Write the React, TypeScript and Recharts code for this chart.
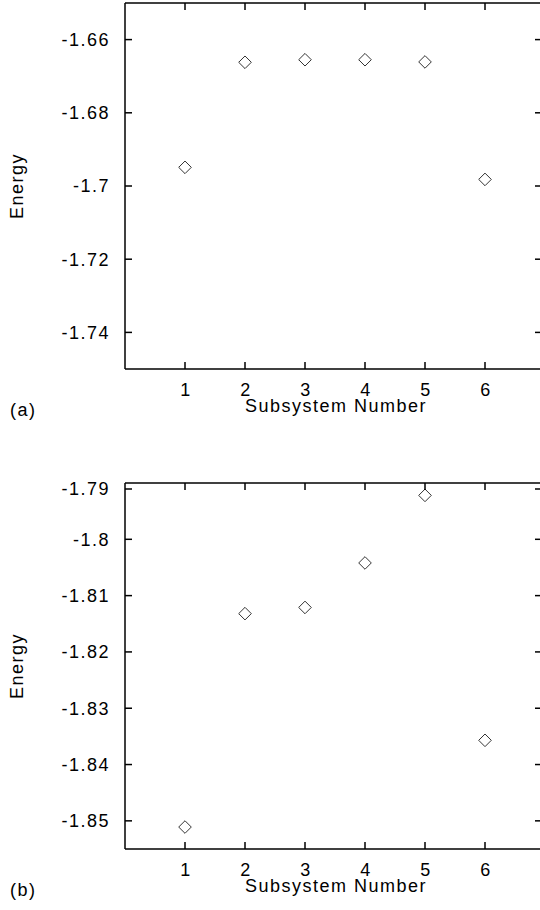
import { Label, Scatter, ScatterChart, XAxis, YAxis } from "recharts";

const subsystems = [1, 2, 3, 4, 5, 6];
const energyA = [-1.6949, -1.6662, -1.6655, -1.6655, -1.6661, -1.6982];
const energyB = [-1.8511, -1.8132, -1.8121, -1.8042, -1.7922, -1.8357];

const xTicks = [1, 2, 3, 4, 5, 6];
const xDomain = [0, 7];
const yTicksA = [-1.74, -1.72, -1.7, -1.68, -1.66];
const yDomainA = [-1.75, -1.65];
const yTicksB = [-1.85, -1.84, -1.83, -1.82, -1.81, -1.8, -1.79];
const yDomainB = [-1.855, -1.79];

const FONT = '"Liberation Sans", Arial, Helvetica, sans-serif';
const axisStroke = { stroke: "#000", strokeWidth: 1.5 };
const TICK_LEN = 7;
const LEFT_GAP = 14;
const BOTTOM_GAP = 27;

const textProps = {
  fill: "#000",
  fontSize: 18,
  fontFamily: FONT,
  letterSpacing: 1.5,
};

// tick marks point into the plot, like the original figure
const LeftTick = (props: any) => {
  const { x, y, payload } = props;
  const ax = x + LEFT_GAP;
  return (
    <g>
      <line x1={ax} y1={y} x2={ax + TICK_LEN} y2={y} stroke="#000" strokeWidth={1.5} />
      <text x={x - 1} y={y} dy="0.36em" textAnchor="end" {...textProps}>
        {payload.value}
      </text>
    </g>
  );
};

const BottomTick = (props: any) => {
  const { x, y, payload } = props;
  const ay = y - BOTTOM_GAP;
  return (
    <g>
      <line x1={x} y1={ay} x2={x} y2={ay - TICK_LEN} stroke="#000" strokeWidth={1.5} />
      <text x={x + 1} y={y} textAnchor="middle" {...textProps}>
        {payload.value}
      </text>
    </g>
  );
};

const TopTick = (props: any) => {
  const { x, y } = props;
  return <line x1={x} y1={y} x2={x} y2={y + TICK_LEN} stroke="#000" strokeWidth={1.5} />;
};

const RightTick = (props: any) => {
  const { x, y } = props;
  return <line x1={x - 10} y1={y} x2={x} y2={y} stroke="#000" strokeWidth={1.5} />;
};

const Diamond = (props: any) => {
  const { cx, cy } = props;
  const r = 6.3;
  return (
    <path
      d={`M${cx},${cy - r}L${cx + r},${cy}L${cx},${cy + r}L${cx - r},${cy}Z`}
      fill="none"
      stroke="#333"
      strokeWidth={1}
    />
  );
};

const Nothing = () => <g />;

const EnergyLabel = (props: any) => {
  const vb = props.viewBox || { x: 0, y: 0, height: 0 };
  const cx = vb.x + 23;
  const cy = vb.y + vb.height / 2;
  return (
    <text x={cx} y={cy} transform={`rotate(-90 ${cx} ${cy})`} textAnchor="middle" {...textProps}>
      Energy
    </text>
  );
};

const SubsystemLabel = (props: any) => {
  const vb = props.viewBox || { x: 0, y: 0, width: 0 };
  return (
    <text x={vb.x + vb.width / 2 + 1} y={vb.y + 43} textAnchor="middle" {...textProps}>
      Subsystem Number
    </text>
  );
};

function Panel({
  values,
  yTicks,
  yDomain,
  tag,
  top,
}: {
  values: number[];
  yTicks: number[];
  yDomain: number[];
  tag: string;
  top: number;
}) {
  const data = subsystems.map((x, i) => ({ x, y: values[i] }));
  return (
    <div style={{ position: "absolute", left: 0, top, width: 560, height: 430 }}>
      <ScatterChart width={560} height={430} margin={{ top: 0, right: 0, bottom: 0, left: 0 }}>
        <XAxis
          xAxisId="top"
          orientation="top"
          type="number"
          dataKey="x"
          domain={xDomain}
          ticks={xTicks}
          height={3}
          tickSize={0}
          tickMargin={0}
          tickLine={false}
          tick={TopTick}
          axisLine={axisStroke}
        />
        <XAxis
          type="number"
          dataKey="x"
          domain={xDomain}
          ticks={xTicks}
          height={61}
          tickSize={0}
          tickMargin={BOTTOM_GAP}
          tickLine={false}
          tick={BottomTick}
          axisLine={axisStroke}
          label={<Label content={SubsystemLabel} />}
        />
        <YAxis
          type="number"
          dataKey="y"
          domain={yDomain}
          ticks={yTicks}
          width={125}
          tickSize={0}
          tickMargin={LEFT_GAP}
          tickLine={false}
          tick={LeftTick}
          axisLine={axisStroke}
          label={<Label content={EnergyLabel} />}
        />
        <YAxis
          yAxisId="right"
          orientation="right"
          type="number"
          dataKey="y"
          domain={yDomain}
          ticks={yTicks}
          width={15}
          tickSize={0}
          tickMargin={0}
          tickLine={false}
          tick={RightTick}
          axisLine={axisStroke}
        />
        <Scatter data={data} shape={Diamond} isAnimationActive={false} />
        {/* same points on the mirror axes so their ticks get drawn */}
        <Scatter
          data={data}
          xAxisId="top"
          yAxisId="right"
          shape={Nothing}
          isAnimationActive={false}
        />
      </ScatterChart>
      <span
        style={{
          position: "absolute",
          left: 10,
          top: 400,
          fontSize: 18,
          fontFamily: FONT,
          letterSpacing: 1.5,
          lineHeight: "20px",
          color: "#000",
        }}
      >
        {tag}
      </span>
    </div>
  );
}

export default function App() {
  return (
    <div
      style={{
        position: "absolute",
        left: 0,
        top: 0,
        width: 540,
        height: 910,
        overflow: "hidden",
        background: "#fff",
      }}
    >
      <Panel values={energyA} yTicks={yTicksA} yDomain={yDomainA} tag="(a)" top={0} />
      <Panel values={energyB} yTicks={yTicksB} yDomain={yDomainB} tag="(b)" top={480} />
    </div>
  );
}
